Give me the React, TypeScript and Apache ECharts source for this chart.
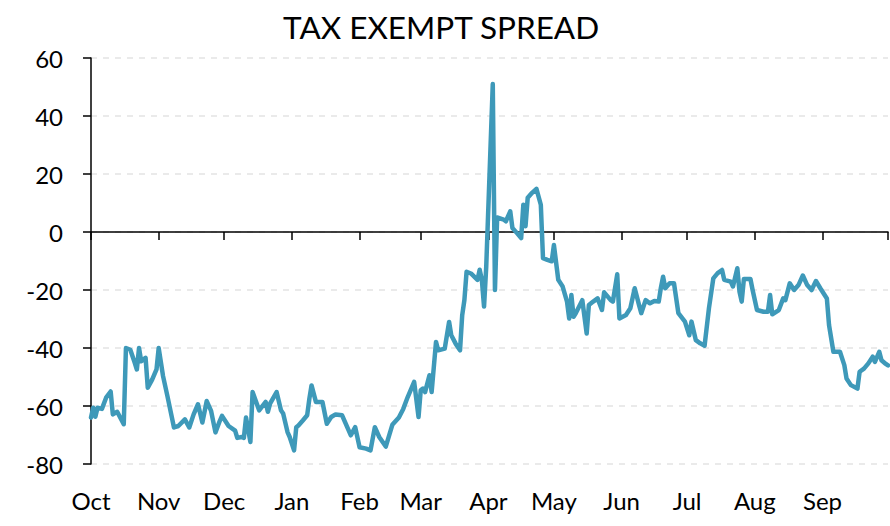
import React, { useEffect, useRef } from 'react';
import * as echarts from 'echarts';

const titleText = 'TAX EXEMPT SPREAD';
const monthLabels = ['Oct', 'Nov', 'Dec', 'Jan', 'Feb', 'Mar', 'Apr', 'May', 'Jun', 'Jul', 'Aug', 'Sep'];
const yMin = -80;
const yMax = 60;
const yStep = 20;
const periodStart = '2022-10-01';
const periodEnd = '2023-10-01';

const dates = [
  '2022-10-01', '2022-10-02', '2022-10-03', '2022-10-04', '2022-10-06', '2022-10-08', '2022-10-10', '2022-10-11',
  '2022-10-13', '2022-10-16', '2022-10-17', '2022-10-19', '2022-10-21', '2022-10-22', '2022-10-23', '2022-10-24',
  '2022-10-26', '2022-10-27', '2022-10-29', '2022-10-31',
  '2022-11-01', '2022-11-03', '2022-11-05', '2022-11-08', '2022-11-10', '2022-11-13', '2022-11-15', '2022-11-17',
  '2022-11-19', '2022-11-21', '2022-11-23', '2022-11-25', '2022-11-27', '2022-11-29', '2022-11-30',
  '2022-12-03', '2022-12-06', '2022-12-07', '2022-12-09', '2022-12-10', '2022-12-11', '2022-12-13', '2022-12-14',
  '2022-12-17', '2022-12-20', '2022-12-21', '2022-12-22', '2022-12-25', '2022-12-27', '2022-12-28', '2022-12-30',
  '2022-12-31',
  '2023-01-02', '2023-01-03', '2023-01-04', '2023-01-06', '2023-01-08', '2023-01-09', '2023-01-10', '2023-01-12',
  '2023-01-15', '2023-01-17', '2023-01-19', '2023-01-21', '2023-01-24', '2023-01-26', '2023-01-28', '2023-01-30',
  '2023-02-01', '2023-02-04', '2023-02-06', '2023-02-08', '2023-02-10', '2023-02-13', '2023-02-16', '2023-02-19',
  '2023-02-21', '2023-02-23', '2023-02-26', '2023-02-28',
  '2023-03-01', '2023-03-02', '2023-03-03', '2023-03-05', '2023-03-06', '2023-03-08', '2023-03-09', '2023-03-12',
  '2023-03-14', '2023-03-15', '2023-03-17', '2023-03-19', '2023-03-20', '2023-03-21', '2023-03-22', '2023-03-24',
  '2023-03-27', '2023-03-28', '2023-03-29', '2023-03-30', '2023-03-31',
  '2023-04-03', '2023-04-04', '2023-04-05', '2023-04-08', '2023-04-09', '2023-04-11', '2023-04-12', '2023-04-14',
  '2023-04-16', '2023-04-17', '2023-04-18', '2023-04-19', '2023-04-21', '2023-04-23', '2023-04-25', '2023-04-26',
  '2023-04-28', '2023-04-30',
  '2023-05-01', '2023-05-03', '2023-05-05', '2023-05-07', '2023-05-08', '2023-05-09', '2023-05-10', '2023-05-11',
  '2023-05-14', '2023-05-16', '2023-05-17', '2023-05-19', '2023-05-21', '2023-05-23', '2023-05-24', '2023-05-27',
  '2023-05-28', '2023-05-30', '2023-05-31',
  '2023-06-03', '2023-06-05', '2023-06-07', '2023-06-09', '2023-06-10', '2023-06-12', '2023-06-14', '2023-06-16',
  '2023-06-18', '2023-06-19', '2023-06-20', '2023-06-21', '2023-06-23', '2023-06-25', '2023-06-27', '2023-06-30',
  '2023-07-02', '2023-07-03', '2023-07-05', '2023-07-07', '2023-07-09', '2023-07-11', '2023-07-13', '2023-07-15',
  '2023-07-17', '2023-07-18', '2023-07-21', '2023-07-22', '2023-07-24', '2023-07-25', '2023-07-26', '2023-07-27',
  '2023-07-30', '2023-07-31',
  '2023-08-02', '2023-08-05', '2023-08-07', '2023-08-08', '2023-08-09', '2023-08-12', '2023-08-14', '2023-08-15',
  '2023-08-17', '2023-08-19', '2023-08-21', '2023-08-23', '2023-08-25', '2023-08-27', '2023-08-29', '2023-08-31',
  '2023-09-03', '2023-09-04', '2023-09-06', '2023-09-09', '2023-09-11', '2023-09-12', '2023-09-14', '2023-09-17',
  '2023-09-18', '2023-09-20', '2023-09-22', '2023-09-24', '2023-09-25', '2023-09-27', '2023-09-28', '2023-09-30',
  '2023-10-01',
];

const spread = [
  -64, -60.6, -63.7, -60.6, -61, -57, -55, -62.9,
  -62, -66.3, -40, -40.6, -45, -47.4, -40, -44.6,
  -43.4, -53.7, -50.9, -47.4,
  -40, -49.7, -56.6, -67.4, -66.9, -64.6, -67.4, -62.9,
  -59.4, -65.7, -58.3, -61.7, -69.1, -65.1, -63.4,
  -66.9, -68.5, -71, -70.7, -71, -64, -72.4, -55.2,
  -61.5, -58.6, -62, -59.2, -55.2, -61.5, -62.6, -69,
  -70.7,
  -75.3, -67.3, -66.7, -65, -63.2, -57.5, -52.9, -58.6,
  -58.6, -66.1, -63.8, -62.9, -63.2, -66.7, -70.1, -67.3,
  -74.2, -74.7, -75.3, -67.3, -70.7, -74, -66.5, -64,
  -61, -57, -51.7, -63.8,
  -54.6, -54, -55.2, -49.4, -55.2, -37.9, -40.8, -40.2,
  -31, -35.6, -38.5, -40.8, -28.7, -23.5, -13.7, -14.3,
  -16.5, -13, -16.5, -25.7, -12,
  51, -20, 5, 4.3, 3.7, 7.1, 1.4, -0.3,
  -2.1, 9.4, 2, 11.8, 13.5, 14.9, 9.4, -9,
  -9.6, -10.1,
  -4.5, -16.5, -18.8, -24, -29.8, -21.7, -29.2, -28,
  -23.5, -35, -25.2, -24, -22.9, -26.9, -20.8, -23.5,
  -24, -14.6, -29.8,
  -28.6, -26.3, -19.4, -25.2, -28, -23.5, -24.6, -23.8,
  -24, -19.2, -15.4, -19.4, -17.7, -17.7, -28, -30.9,
  -35.6, -30.9, -37.3, -38.4, -39.2, -26.3, -16, -14.2,
  -13.1, -16.5, -17.1, -18.8, -12.5, -20.6, -24, -16.2,
  -16.2, -20,
  -26.9, -27.5, -27.5, -21.7, -28.4, -26.9, -22.9, -23.5,
  -17.7, -20, -18.3, -15, -18.3, -20, -16.9, -19.4,
  -22.9, -32.1, -41.3, -41.3, -45.9, -50.5, -52.8, -54,
  -48.2, -47.1, -45.3, -43, -44.8, -41.3, -44.2, -45.5,
  -46,
];

function buildDays(start: string, end: string): string[] {
  const out: string[] = [];
  const [sy, sm, sd] = start.split('-').map(Number);
  const [ey, em, ed] = end.split('-').map(Number);
  let t = Date.UTC(sy, sm - 1, sd);
  const last = Date.UTC(ey, em - 1, ed);
  while (t <= last) {
    out.push(new Date(t).toISOString().slice(0, 10));
    t += 86400000;
  }
  return out;
}

const FONT = 'Lato, "Open Sans", sans-serif';

export default function App() {
  const ref = useRef<HTMLDivElement>(null);
  useEffect(() => {
    if (!ref.current) return;
    const chart = echarts.init(ref.current, undefined, { renderer: 'svg' });
    const categories = buildDays(periodStart, periodEnd);
    const indexOf: Record<string, number> = {};
    categories.forEach((d, i) => (indexOf[d] = i));
    const seriesData = dates.map((d, i) => [indexOf[d], spread[i]]);
    const isMonthStart = (_i: number, v: string) => v.slice(8) === '01';
    const lastIdx = categories.length - 1;

    chart.setOption({
      animation: false,
      title: {
        text: titleText,
        left: 278,
        top: 6,
        textStyle: { fontFamily: FONT, fontSize: 31.5, fontWeight: 'normal', color: '#000' },
      },
      grid: { left: 91, right: 2, top: 58, bottom: 62, containLabel: false },
      xAxis: [
        {
          type: 'category',
          data: categories,
          boundaryGap: false,
          axisLine: { show: true, onZero: true, lineStyle: { color: '#000', width: 1.5 } },
          axisTick: { show: true, interval: isMonthStart, length: 8, lineStyle: { color: '#000', width: 1.5 } },
          axisLabel: { show: false },
          splitLine: { show: false },
        },
        {
          type: 'category',
          data: categories,
          boundaryGap: false,
          position: 'bottom',
          axisLine: { show: false, onZero: false },
          axisTick: { show: false },
          splitLine: { show: false },
          axisLabel: {
            interval: (i: number, v: string) => v.slice(8) === '01' && i < lastIdx,
            formatter: (v: string) => monthLabels[(Number(v.slice(5, 7)) + 2) % 12],
            margin: 24,
            fontFamily: FONT,
            fontSize: 24,
            color: '#000',
          },
        },
      ],
      yAxis: {
        type: 'value',
        min: yMin,
        max: yMax,
        interval: yStep,
        axisLine: { show: true, lineStyle: { color: '#000', width: 1.5 } },
        axisTick: { show: true, length: 8, lineStyle: { color: '#000', width: 1.5 } },
        axisLabel: { margin: 28, fontFamily: FONT, fontSize: 24, color: '#000' },
        splitLine: { show: true, lineStyle: { type: [6, 6], color: '#e3e3e3', width: 1.5 } },
      },
      series: [
        {
          type: 'line',
          xAxisIndex: 0,
          data: seriesData,
          symbol: 'none',
          lineStyle: { color: '#3e99b9', width: 4.5, join: 'round', cap: 'round' },
          itemStyle: { color: '#3e99b9' },
          z: 3,
        },
      ],
    });
    return () => chart.dispose();
  }, []);
  return <div ref={ref} style={{ position: 'absolute', left: 0, top: 0, width: 890, height: 526 }} />;
}
